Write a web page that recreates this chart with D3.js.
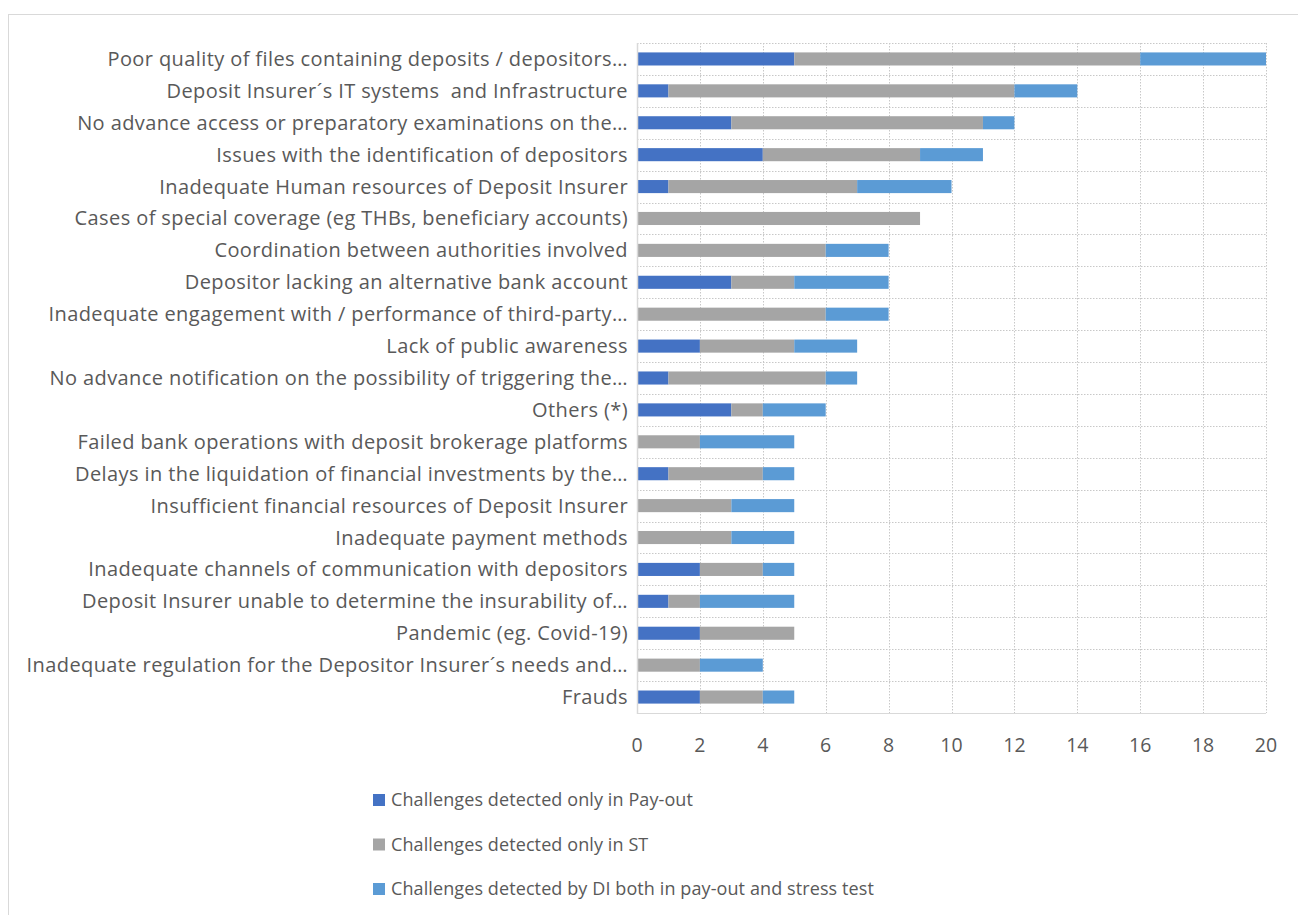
<!DOCTYPE html>
<html><head><meta charset="utf-8">
<script src="https://cdn.jsdelivr.net/npm/d3@7"></script>
<style>
html,body{margin:0;padding:0;background:#fff;}
text{font-family:"Open Sans",sans-serif;fill:#595959;white-space:pre;}
</style></head>
<body><svg id="c" width="1298" height="915"></svg>
<script>
const categories = [
  "Poor quality of files containing deposits / depositors…",
  "Deposit Insurer´s IT systems  and Infrastructure",
  "No advance access or preparatory examinations on the…",
  "Issues with the identification of depositors",
  "Inadequate Human resources of Deposit Insurer",
  "Cases of special coverage (eg THBs, beneficiary accounts)",
  "Coordination between authorities involved",
  "Depositor lacking an alternative bank account",
  "Inadequate engagement with / performance of third-party…",
  "Lack of public awareness",
  "No advance notification on the possibility of triggering the…",
  "Others (*)",
  "Failed bank operations with deposit brokerage platforms",
  "Delays in the liquidation of financial investments by the…",
  "Insufficient financial resources of Deposit Insurer",
  "Inadequate payment methods",
  "Inadequate channels of communication with depositors",
  "Deposit Insurer unable to determine the insurability of…",
  "Pandemic (eg. Covid-19)",
  "Inadequate regulation for the Depositor Insurer´s needs and…",
  "Frauds"
];
const payoutOnly = [5,1,3,4,1,0,0,3,0,2,1,3,0,1,0,0,2,1,2,0,2];
const stOnly     = [11,11,8,5,6,9,6,2,6,3,5,1,2,3,3,3,2,1,3,2,2];
const both       = [4,2,1,2,3,0,2,3,2,2,1,2,3,1,2,2,1,3,0,2,1];
const seriesNames = [
  "Challenges detected only in Pay-out",
  "Challenges detected only in ST",
  "Challenges detected by DI both in pay-out and stress test"
];
const seriesColors = ["#4472C4","#A5A5A5","#5B9BD5"];
const xTicks = [0,2,4,6,8,10,12,14,16,18,20];

const svg = d3.select("#c");
const W = 1298, H = 915;

svg.append("rect").attr("x",8.5).attr("y",14.5).attr("width",W+10).attr("height",H+10)
  .attr("fill","none").attr("stroke","#d9d9d9").attr("stroke-width",1);

const x = d3.scaleLinear().domain([0,20]).range([637,1266]);
const y = d3.scaleBand().domain(categories).range([43,713]).paddingInner(0.59).paddingOuter(0.295);

const rows = categories.map((c,i)=>({cat:c, vals:[payoutOnly[i],stOnly[i],both[i]]}));
const stack = d3.stack().keys([0,1,2]).value((d,k)=>d.vals[k])(rows);

const g = svg.append("g");
const step = (713-43)/categories.length;
const hLines = d3.range(categories.length).map(i=>43+i*step);
g.selectAll("line.h").data(hLines).enter().append("line")
  .attr("x1",637).attr("x2",1266).attr("y1",d=>Math.round(d)+0.5).attr("y2",d=>Math.round(d)+0.5)
  .attr("stroke","#c8c8c8").attr("stroke-dasharray","1.5,1.5").attr("stroke-width",1);
g.selectAll("line.v").data(xTicks.slice(1)).enter().append("line")
  .attr("x1",d=>Math.round(x(d))+0.5).attr("x2",d=>Math.round(x(d))+0.5).attr("y1",43).attr("y2",713)
  .attr("stroke","#c8c8c8").attr("stroke-dasharray","1.5,1.5").attr("stroke-width",1);
g.append("line").attr("x1",637).attr("x2",1266).attr("y1",713.5).attr("y2",713.5)
  .attr("stroke","#d9d9d9");

svg.selectAll("g.s").data(stack).enter().append("g")
  .attr("fill",(d,i)=>seriesColors[i])
  .selectAll("rect").data(d=>d).enter().append("rect")
  .attr("x",d=>x(d[0])).attr("width",d=>x(d[1])-x(d[0]))
  .attr("y",d=>y(d.data.cat)).attr("height",y.bandwidth());

svg.append("line").attr("x1",637.5).attr("x2",637.5).attr("y1",43).attr("y2",714)
  .attr("stroke","#d9d9d9").attr("stroke-width",1.5);

svg.append("g").selectAll("text").data(categories).enter().append("text")
  .attr("x",628).attr("y",d=>y(d)+y.bandwidth()/2).attr("dy","0.35em")
  .attr("text-anchor","end").style("font-size","20px").style("letter-spacing","0.4px").text(d=>d);

svg.append("g").selectAll("text").data(xTicks).enter().append("text")
  .attr("x",d=>x(d)).attr("y",745).attr("dy","0.35em").attr("text-anchor","middle")
  .style("font-size","19.5px").text(d=>d);

const leg = svg.append("g").selectAll("g").data(seriesNames).enter().append("g")
  .attr("transform",(d,i)=>`translate(373,${800+i*44.5})`);
leg.append("rect").attr("x",0).attr("y",-6).attr("width",12).attr("height",12)
  .attr("fill",(d,i)=>seriesColors[i]);
leg.append("text").attr("x",18).attr("y",0).attr("dy","0.35em").style("font-size","18px").style("letter-spacing","0.1px").text(d=>d);
</script></body></html>
